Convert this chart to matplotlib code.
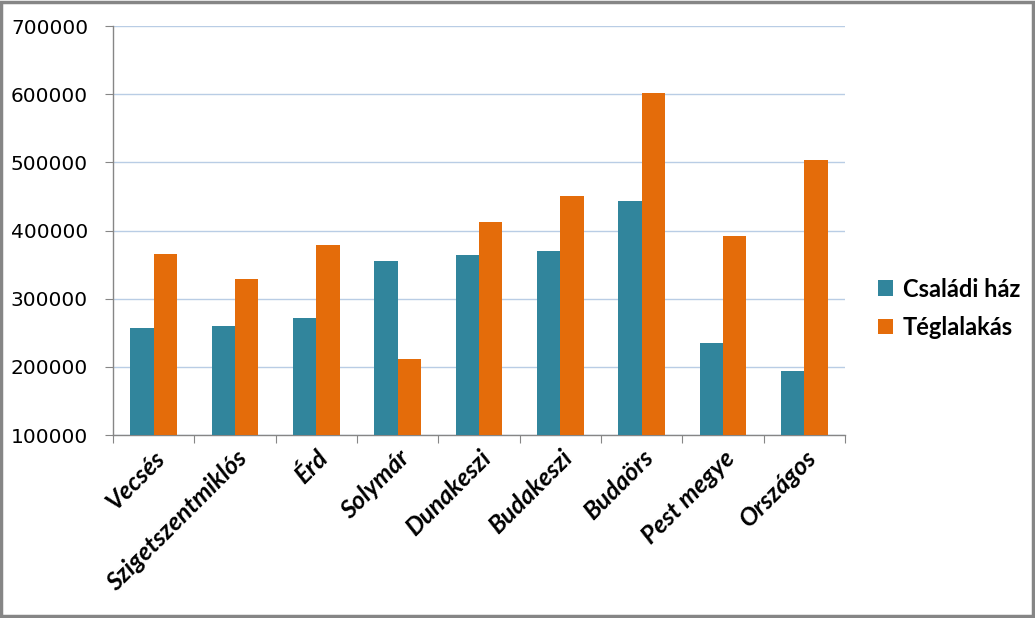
import numpy as np
import matplotlib.pyplot as plt
from matplotlib.patches import Rectangle

# data
telepulesek = ['Vecsés', 'Szigetszentmiklós', 'Érd', 'Solymár', 'Dunakeszi',
               'Budakeszi', 'Budaörs', 'Pest megye', 'Országos']
csaladi_haz = [257000, 260000, 272000, 355000, 364000, 370000, 443000, 235000, 194000]
teglalakas = [365500, 329000, 379000, 211500, 412000, 450500, 601700, 392000, 503000]
y_ticks = [100000, 200000, 300000, 400000, 500000, 600000, 700000]

teal = '#31859C'
orange = '#E46C0A'
axis_gray = '#868686'

fig = plt.figure(figsize=(10.35, 6.18), dpi=100)
ax = fig.add_axes([0.1092, 0.2961, 0.7072, 0.6618])

x = np.arange(len(telepulesek))
w = 0.286
ax.bar(x - w / 2, csaladi_haz, width=w, color=teal, label='Családi ház', zorder=3)
ax.bar(x + w / 2, teglalakas, width=w, color=orange, label='Téglalakás', zorder=3)

ax.set_xlim(-0.5, len(telepulesek) - 0.5)
ax.set_ylim(100000, 700000)
ax.set_yticks(y_ticks)
ax.set_yticklabels([str(v) for v in y_ticks], fontsize=14.5, family='DejaVu Sans')
ax.yaxis.grid(True, color='#B9CDE5', linewidth=1, zorder=0)

# category boundaries get the tick marks, labels sit in the middle
ax.set_xticks(np.arange(len(telepulesek) + 1) - 0.5)
ax.set_xticklabels([])
ax.set_xticks(x, minor=True)
ax.set_xticklabels(telepulesek, minor=True, rotation=45, ha='right',
                   rotation_mode='anchor', fontsize=18, family='Lato',
                   fontweight='bold', fontstyle='italic')
ax.tick_params(axis='x', which='minor', length=0, pad=8)
ax.tick_params(axis='x', which='major', length=6, color=axis_gray, direction='out')
ax.tick_params(axis='y', length=6, color=axis_gray, direction='out', pad=12)

for side in ['top', 'right']:
    ax.spines[side].set_visible(False)
for side in ['left', 'bottom']:
    ax.spines[side].set_color(axis_gray)
    ax.spines[side].set_linewidth(1)

leg = ax.legend(loc='center left', bbox_to_anchor=(1.045, 0.31), frameon=False,
                prop={'family': 'Lato', 'weight': 'bold', 'size': 17},
                handlelength=0.65, handleheight=0.65, handletextpad=0.4,
                labelspacing=0.65, borderpad=0, borderaxespad=0)

# chart area border
fig.patches.append(Rectangle((0.001, 0.003), 0.997, 0.994, transform=fig.transFigure,
                             fill=False, edgecolor=axis_gray, linewidth=2.5))

fig.savefig('out.png', dpi=100)
